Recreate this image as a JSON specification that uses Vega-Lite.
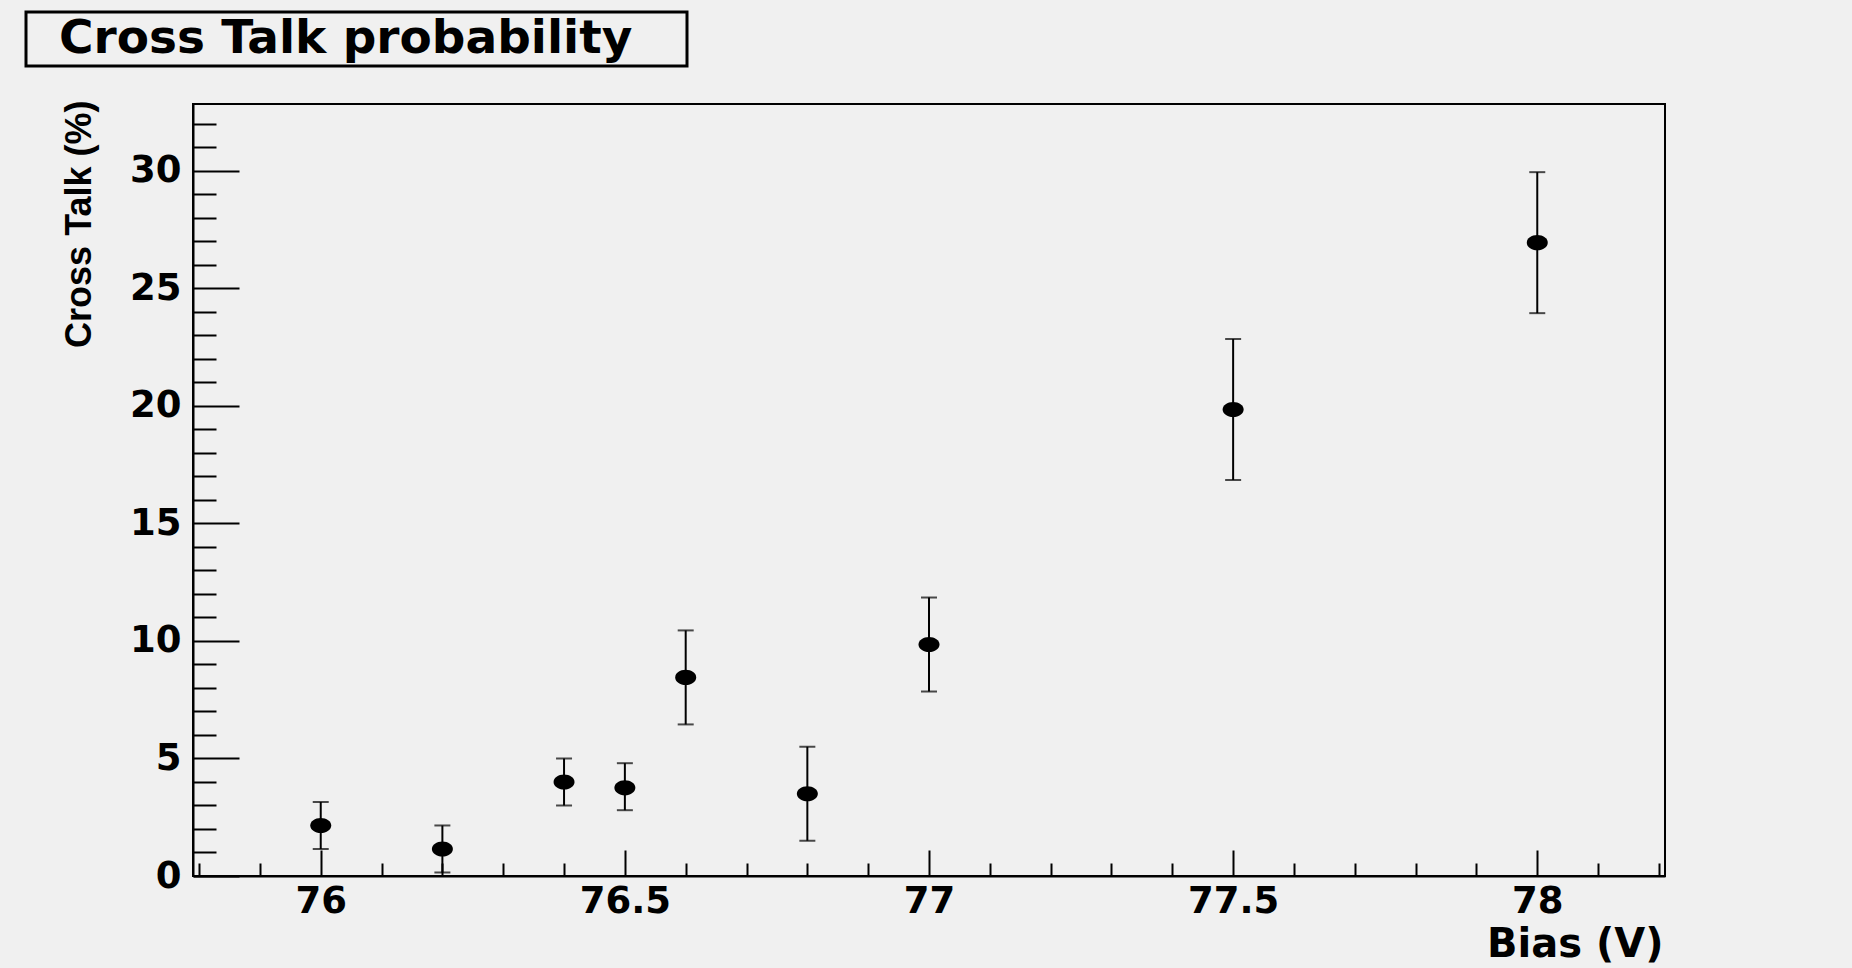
{
  "$schema": "https://vega.github.io/schema/vega-lite/v6.json",
  "autosize": {"type": "none"},
  "width": 1472,
  "height": 772,
  "padding": {"left": 193, "top": 104, "right": 187, "bottom": 92},
  "background": "#f0f0f0",
  "config": {
    "view": {"stroke": "#000000", "strokeWidth": 2, "fill": "#f0f0f0"},
    "axis": {"grid": false},
    "legend": {"strokeWidth": 3}
  },
  "data": {
    "values": [
      {"bias": 76.0, "ct": 2.15, "lo": 1.15, "hi": 3.15},
      {"bias": 76.2, "ct": 1.15, "lo": 0.15, "hi": 2.15},
      {"bias": 76.4, "ct": 4.0, "lo": 3.0, "hi": 5.0},
      {"bias": 76.5, "ct": 3.75, "lo": 2.8, "hi": 4.8},
      {"bias": 76.6, "ct": 8.45, "lo": 6.45, "hi": 10.45},
      {"bias": 76.8, "ct": 3.5, "lo": 1.5, "hi": 5.5},
      {"bias": 77.0, "ct": 9.85, "lo": 7.85, "hi": 11.85},
      {"bias": 77.5, "ct": 19.85, "lo": 16.85, "hi": 22.85},
      {"bias": 78.0, "ct": 26.95, "lo": 23.95, "hi": 29.95}
    ]
  },
  "resolve": {"axis": {"x": "independent", "y": "independent"}},
  "layer": [
    {
      "mark": {"type": "rule", "color": "#000000", "strokeWidth": 2},
      "encoding": {
        "x": {
          "field": "bias", "type": "quantitative",
          "scale": {"domain": [75.79, 78.21], "nice": false, "zero": false},
          "axis": {
            "orient": "bottom",
            "values": [76, 76.5, 77, 77.5, 78],
            "format": "~g",
            "ticks": false,
            "domain": true, "domainColor": "#000000", "domainWidth": 2,
            "labelFont": "DejaVu Sans", "labelFontWeight": "bold", "labelFontSize": 37,
            "labelColor": "#000000", "labelBaseline": "alphabetic", "labelPadding": 36,
            "labelFlush": false, "labelOverlap": false,
            "title": "Bias (V)",
            "titleFont": "DejaVu Sans", "titleFontWeight": "bold", "titleFontSize": 40,
            "titleColor": "#000000", "titleAlign": "right", "titleBaseline": "alphabetic",
            "titleX": 1470, "titleY": 80
          }
        },
        "y": {
          "field": "lo", "type": "quantitative",
          "scale": {"domain": [0, 32.85], "nice": false, "zero": false},
          "axis": {
            "orient": "left",
            "values": [0, 5, 10, 15, 20, 25, 30],
            "ticks": false,
            "domain": true, "domainColor": "#000000", "domainWidth": 2,
            "labelFont": "DejaVu Sans", "labelFontWeight": "bold", "labelFontSize": 37,
            "labelColor": "#000000", "labelPadding": 12,
            "labelFlush": false, "labelOverlap": false,
            "title": "Cross Talk (%)",
            "titleFont": "Liberation Sans", "titleFontWeight": "bold", "titleFontSize": 36,
            "titleColor": "#000000", "titleAngle": -90, "titleAlign": "right",
            "titleBaseline": "alphabetic", "titleX": -103, "titleY": -4
          }
        },
        "y2": {"field": "hi"}
      }
    },
    {
      "mark": {"type": "tick", "orient": "horizontal", "color": "#000000", "size": 16, "thickness": 2},
      "encoding": {
        "x": {
          "field": "bias", "type": "quantitative",
          "scale": {"domain": [75.79, 78.21], "nice": false, "zero": false},
          "axis": {
            "orient": "bottom", "values": [76, 76.5, 77, 77.5, 78],
            "labels": false, "domain": false, "ticks": true,
            "tickSize": -26, "tickWidth": 2, "tickColor": "#000000", "title": null
          }
        },
        "y": {
          "field": "lo", "type": "quantitative",
          "scale": {"domain": [0, 32.85], "nice": false, "zero": false},
          "axis": {
            "orient": "left", "values": [0, 5, 10, 15, 20, 25, 30],
            "labels": false, "domain": false, "ticks": true,
            "tickSize": -46, "tickWidth": 2, "tickColor": "#000000", "title": null
          }
        }
      }
    },
    {
      "mark": {"type": "tick", "orient": "horizontal", "color": "#000000", "size": 16, "thickness": 2},
      "encoding": {
        "x": {
          "field": "bias", "type": "quantitative",
          "scale": {"domain": [75.79, 78.21], "nice": false, "zero": false},
          "axis": {
            "orient": "bottom",
            "values": [75.8, 75.9, 76.1, 76.2, 76.3, 76.4, 76.6, 76.7, 76.8, 76.9, 77.1, 77.2, 77.3, 77.4, 77.6, 77.7, 77.8, 77.9, 78.1, 78.2],
            "labels": false, "domain": false, "ticks": true,
            "tickSize": -13, "tickWidth": 2, "tickColor": "#000000", "title": null
          }
        },
        "y": {
          "field": "hi", "type": "quantitative",
          "scale": {"domain": [0, 32.85], "nice": false, "zero": false},
          "axis": {
            "orient": "left",
            "values": [1, 2, 3, 4, 6, 7, 8, 9, 11, 12, 13, 14, 16, 17, 18, 19, 21, 22, 23, 24, 26, 27, 28, 29, 31, 32],
            "labels": false, "domain": false, "ticks": true,
            "tickSize": -23, "tickWidth": 2, "tickColor": "#000000", "title": null
          }
        }
      }
    },
    {
      "mark": {"type": "point", "filled": true, "opacity": 1, "size": 441, "color": "#000000",
               "shape": "M-1,0A1,0.72,0,1,0,1,0A1,0.72,0,1,0,-1,0Z"},
      "encoding": {
        "x": {
          "field": "bias", "type": "quantitative",
          "scale": {"domain": [75.79, 78.21], "nice": false, "zero": false},
          "axis": null
        },
        "y": {
          "field": "ct", "type": "quantitative",
          "scale": {"domain": [0, 32.85], "nice": false, "zero": false},
          "axis": null
        }
      }
    },
    {
      "mark": {"type": "point", "filled": true, "size": 1},
      "encoding": {
        "x": {
          "field": "bias", "type": "quantitative",
          "scale": {"domain": [75.79, 78.21], "nice": false, "zero": false},
          "axis": null
        },
        "y": {
          "field": "ct", "type": "quantitative",
          "scale": {"domain": [0, 32.85], "nice": false, "zero": false},
          "axis": null
        },
        "color": {
          "datum": "Cross Talk probability", "type": "nominal",
          "scale": {"range": ["#000000"]},
          "legend": {
            "orient": "none", "legendX": -167, "legendY": -92,
            "title": " ", "titleOrient": "right", "titlePadding": 51,
            "titleFontSize": 10, "titleColor": "#f0f0f0",
            "symbolType": "M-1,-0.03L1,-0.03L1,0.03L-1,0.03Z",
            "symbolSize": 423801, "symbolOpacity": 0,
            "symbolStrokeWidth": 0, "symbolOffset": 0,
            "clipHeight": 46,
            "labelFont": "DejaVu Sans", "labelFontWeight": "bold", "labelFontSize": 47,
            "labelColor": "#000000", "labelOffset": -622, "labelLimit": 0,
            "padding": 4, "fillColor": "#f0f0f0", "strokeColor": "#000000",
            "cornerRadius": 0
          }
        }
      }
    }
  ]
}
